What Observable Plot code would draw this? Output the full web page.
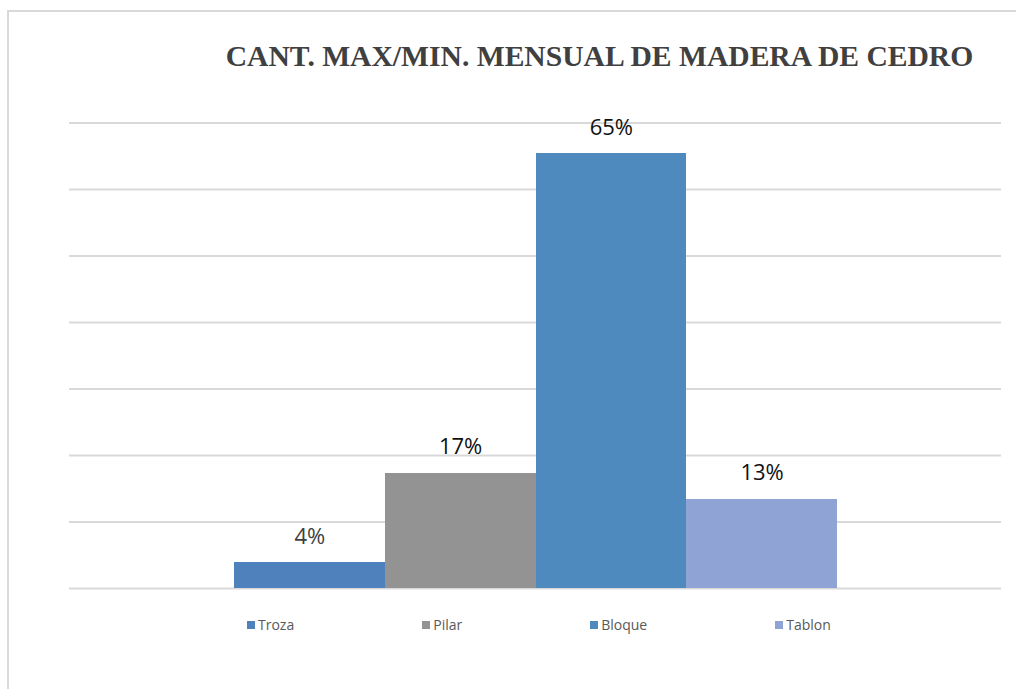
<!DOCTYPE html>
<html>
<head>
<meta charset="utf-8">
<script src="https://cdn.jsdelivr.net/npm/d3@7"></script>
<script src="https://cdn.jsdelivr.net/npm/@observablehq/plot@0.6"></script>
<style>
  html, body { margin: 0; padding: 0; background: #fff; }
  #page { position: relative; width: 1016px; height: 689px; overflow: hidden; }
  #frame { position: absolute; left: 7px; top: 10px; right: -10px; bottom: -10px;
           border-left: 2px solid #d9d9d9; border-top: 2px solid #d9d9d9; }
  #title { position: absolute; left: 599.5px; top: 42px; transform: translateX(-50%);
           font-family: "Liberation Serif", "Times New Roman", serif; line-height: 1;
           font-weight: bold; font-size: 29.6px; color: #404040; white-space: nowrap; }
  #chart { position: absolute; left: 0; top: 0; }
  #legend { position: absolute; left: 247px; top: 615px; display: flex; gap: 128px;
            font-family: "Open Sans", sans-serif; font-size: 14px; color: #595959; }
  #legend .item { display: flex; align-items: center; gap: 3px; }
  #legend .sw { width: 8px; height: 8px; display: inline-block; }
</style>
</head>
<body>
<div id="page">
  <div id="frame"></div>
  <div id="chart"></div>
  <div id="title">CANT. MAX/MIN. MENSUAL DE MADERA DE CEDRO</div>
  <div id="legend"></div>
</div>
<script>
// Data
const series = ["Troza", "Pilar", "Bloque", "Tablon"];
const values = [3.9, 17.3, 65.4, 13.4];
const yTicks = [0, 10, 20, 30, 40, 50, 60, 70];
const colors = ["#4f81bd", "#939393", "#4f8abe", "#8fa3d4"];

const data = series.map((s, i) => ({ serie: s, value: values[i], label: Math.round(values[i]) + "%" }));

const chart = Plot.plot({
  width: 1016,
  height: 600,
  marginLeft: 69,
  marginRight: 15,
  marginTop: 122.5,
  marginBottom: 12,
  x: { type: "band", domain: series, range: [234, 837], padding: 0, round: false, axis: null },
  y: { domain: [0, 70], axis: null },
  color: { domain: series, range: colors },
  style: { background: "transparent" },
  marks: [
    Plot.ruleY(yTicks, { stroke: "#d9d9d9", strokeWidth: 2 }),
    Plot.barY(data, { x: "serie", y: "value", fill: "serie", shapeRendering: "crispEdges" }),
    Plot.text(data, {
      x: "serie", y: "value", text: "label", lineAnchor: "bottom", dy: -19,
      fontFamily: "Open Sans, sans-serif", fontSize: 22,
      fill: d => d.serie === "Troza" ? "#404040" : "#111111"
    })
  ]
});
document.getElementById("chart").appendChild(chart);

const legend = document.getElementById("legend");
series.forEach((s, i) => {
  const item = document.createElement("div");
  item.className = "item";
  const sw = document.createElement("span");
  sw.className = "sw";
  sw.style.background = colors[i];
  const t = document.createElement("span");
  t.textContent = s;
  item.appendChild(sw);
  item.appendChild(t);
  legend.appendChild(item);
});
</script>
</body>
</html>
